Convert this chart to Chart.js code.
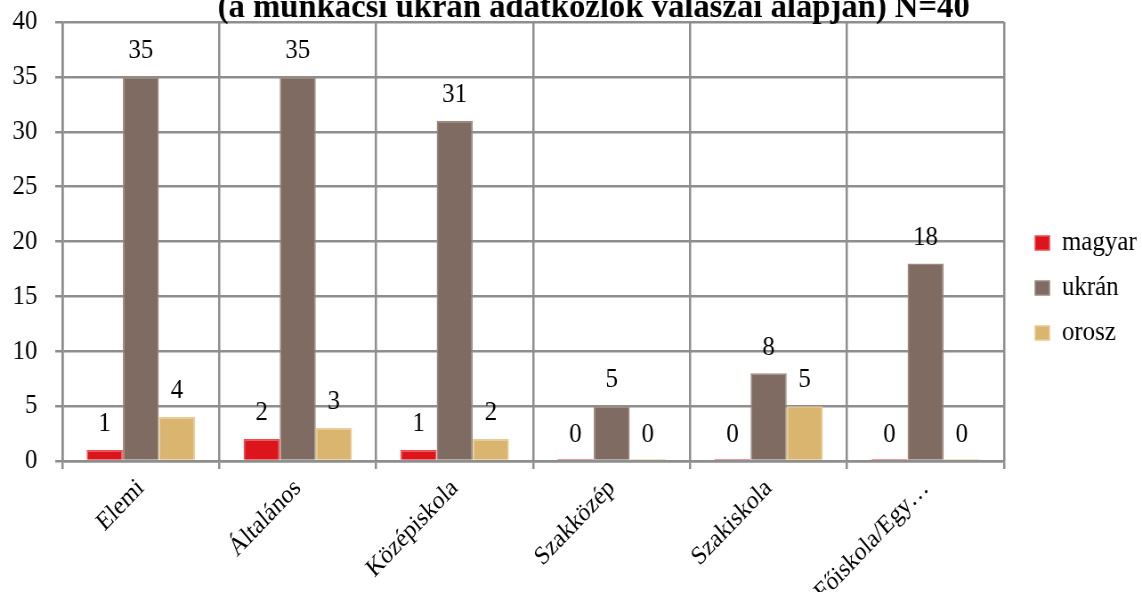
<!DOCTYPE html>
<html>
<head>
<meta charset="utf-8">
<script src="https://cdn.jsdelivr.net/npm/chart.js@4.4.0/dist/chart.umd.min.js"></script>
<style>
html,body{margin:0;padding:0;background:#fff;overflow:hidden;}
#wrap{width:1142px;height:592px;position:relative;}
#c{display:block;}
</style>
</head>
<body>
<div id="wrap"><canvas id="c" width="1283" height="592" style="width:1142px;height:592px;"></canvas></div>
<script>
const categories = ["Elemi", "Általános", "Középiskola", "Szakközép", "Szakiskola", "Főiskola/Egy…"];
const magyar = [1, 2, 1, 0, 0, 0];
const ukran = [35, 35, 31, 5, 8, 18];
const orosz = [4, 3, 2, 0, 5, 0];
const seriesNames = ["magyar", "ukrán", "orosz"];
const yTicks = [0, 5, 10, 15, 20, 25, 30, 35, 40];
const titleText = "(a munkácsi ukrán adatközlők válaszai alapján) N=40";

const FONT = '"Liberation Serif", "Times New Roman", serif';
const GRID = '#8e8e8e';

const titlePlugin = {
  id: 'cutTitle',
  afterDraw(chart) {
    const ctx = chart.ctx;
    ctx.save();
    ctx.font = 'bold 30px ' + FONT;
    const w = ctx.measureText(titleText).width;
    const target = 845;
    ctx.translate(667, 17);
    ctx.scale(target / w, 1.1);
    ctx.textAlign = 'center';
    ctx.textBaseline = 'alphabetic';
    ctx.fillStyle = '#000';
    ctx.fillText(titleText, 0, 0);
    ctx.restore();
  }
};

const valueLabels = {
  id: 'valueLabels',
  afterDatasetsDraw(chart) {
    const ctx = chart.ctx;
    ctx.save();
    ctx.font = '28px ' + FONT;
    ctx.fillStyle = '#000';
    ctx.textAlign = 'center';
    ctx.textBaseline = 'middle';
    chart.data.datasets.forEach((ds, i) => {
      const meta = chart.getDatasetMeta(i);
      meta.data.forEach((el, j) => {
        const v = ds.data[j];
        const yTop = chart.scales.y.getPixelForValue(v);
        ctx.fillText(String(v), el.x, yTop - 26);
      });
    });
    ctx.restore();
  }
};

const chart = new Chart(document.getElementById('c'), {
  type: 'bar',
  data: {
    labels: categories,
    datasets: [
      { label: seriesNames[0], data: magyar, backgroundColor: '#dc141c', borderColor: '#f04a4e', borderWidth: 1.5, minBarLength: 2 },
      { label: seriesNames[1], data: ukran, backgroundColor: '#7f6b61', borderColor: '#9c8a80', borderWidth: 1.5, minBarLength: 2 },
      { label: seriesNames[2], data: orosz, backgroundColor: '#d9b56f', borderColor: '#e8cc92', borderWidth: 1.5, minBarLength: 2 }
    ]
  },
  options: {
    responsive: false,
    animation: false,
    devicePixelRatio: 1,
    layout: { padding: { top: 0, right: 0, left: 0, bottom: 0 } },
    datasets: { bar: { categoryPercentage: 0.69, barPercentage: 1.0 } },
    scales: {
      x: {
        grid: { color: GRID, lineWidth: 2.5, offset: true, tickLength: 8, drawTicks: true },
        border: { color: GRID, width: 2.5 },
        ticks: {
          color: '#000', font: { family: FONT, size: 26 },
          minRotation: 43, maxRotation: 43, autoSkip: false, padding: 4
        },
        afterFit(s) { s.height = 131; }
      },
      y: {
        min: 0, max: 40,
        afterBuildTicks(s) { s.ticks = yTicks.map(v => ({ value: v })); },
        grid: { color: GRID, lineWidth: 2.5, tickLength: 8 },
        border: { color: GRID, width: 2.5 },
        ticks: { color: '#000', font: { family: FONT, size: 28 }, padding: 20 },
        afterFit(s) { s.width = 70; s.paddingTop = 22; }
      }
    },
    plugins: {
      legend: {
        position: 'right',
        labels: {
          color: '#000', font: { family: FONT, size: 28 },
          boxWidth: 16, boxHeight: 14, padding: 17
        }
      },
      tooltip: { enabled: false },
      title: { display: false }
    }
  },
  plugins: [titlePlugin, valueLabels]
});

// widen the legend box so the plot ends where the reference's does,
// and nudge its contents to the reference's position
const lg = chart.legend;
const origFit = lg.fit.bind(lg);
lg.fit = function () { origFit(); this.width = 155; };
const origDraw = lg._draw.bind(lg);
lg._draw = function () {
  const l = this.left, t = this.top, b = this.bottom;
  this.left = l + 18; this.top = t - 8; this.bottom = b - 8;
  origDraw();
  this.left = l; this.top = t; this.bottom = b;
};
chart.update();
</script>
</body>
</html>
